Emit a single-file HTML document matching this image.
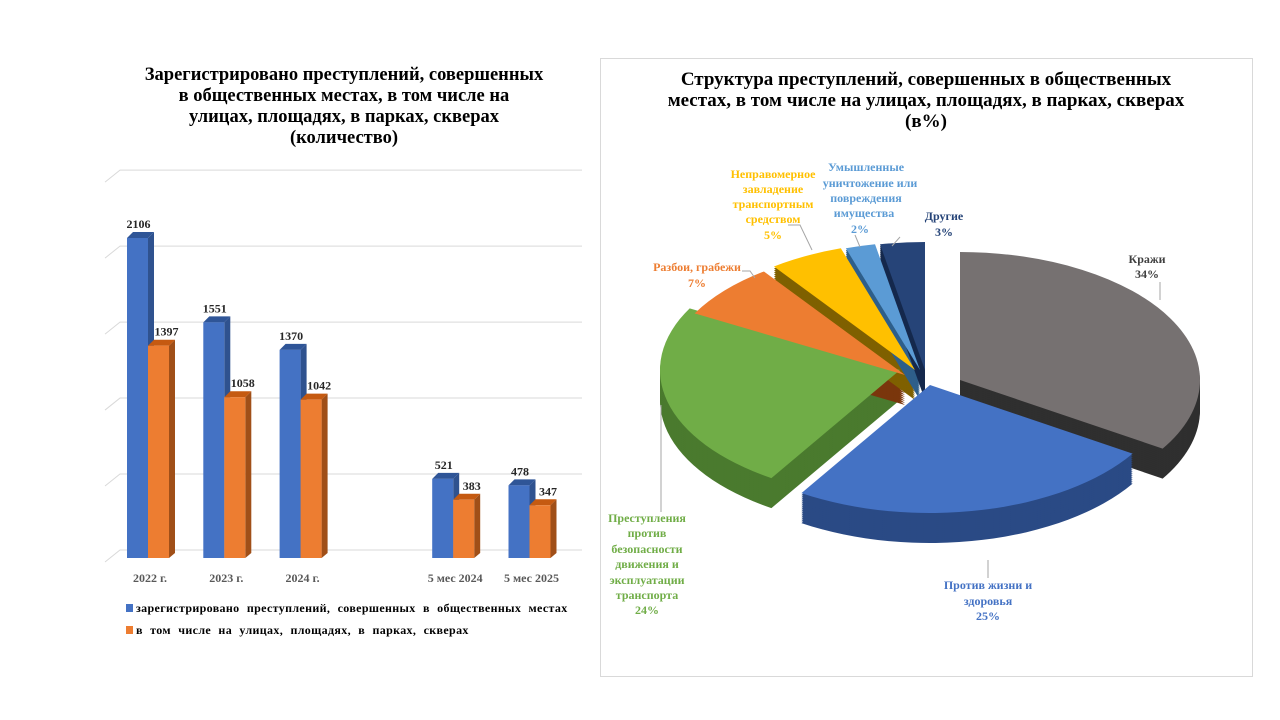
<!DOCTYPE html>
<html><head><meta charset="utf-8"><style>
body{margin:0;background:#fff;width:1280px;height:720px;overflow:hidden;font-family:"Liberation Serif",serif}
svg{position:absolute;left:0;top:0}
</style></head><body>
<svg width="1280" height="720">
<g>
<text x="344" y="80" text-anchor="middle" font-size="18.5" font-weight="bold"><tspan x="344" dy="0">Зарегистрировано преступлений, совершенных</tspan><tspan x="344" dy="21">в общественных местах, в том числе на</tspan><tspan x="344" dy="21">улицах, площадях, в парках, скверах</tspan><tspan x="344" dy="21">(количество)</tspan></text>
<g id="grid"></g>
<g id="bars"></g>
<g id="xlabels"></g>
<rect x="126" y="604" width="7" height="8" fill="#4472c4"/>
<text x="136" y="612" font-size="12" font-weight="bold" word-spacing="4" letter-spacing="0.35">зарегистрировано преступлений, совершенных в общественных местах</text>
<rect x="126" y="626" width="7" height="8" fill="#ed7d31"/>
<text x="136" y="634" font-size="12" font-weight="bold" word-spacing="4" letter-spacing="0.35">в том числе на улицах, площадях, в парках, скверах</text>
</g>
<g>
<rect x="600.5" y="58.5" width="652" height="618" fill="none" stroke="#d9d9d9"/>
<text x="926" y="85" text-anchor="middle" font-size="19" font-weight="bold"><tspan x="926" dy="0">Структура преступлений, совершенных в общественных</tspan><tspan x="926" dy="21">местах, в том числе на улицах, площадях, в парках, скверах</tspan><tspan x="926" dy="21">(в%)</tspan></text>
<g id="pie"></g>
<g font-size="12" font-weight="bold" text-anchor="middle">
<text fill="#404040"><tspan x="1147" y="263">Кражи</tspan><tspan x="1147" y="278">34%</tspan></text>
<text fill="#4472c4"><tspan x="988" y="589">Против жизни и</tspan><tspan x="988" y="605">здоровья</tspan><tspan x="988" y="620">25%</tspan></text>
<text fill="#70ad47"><tspan x="647" y="522">Преступления</tspan><tspan x="647" y="537">против</tspan><tspan x="647" y="553">безопасности</tspan><tspan x="647" y="568">движения и</tspan><tspan x="647" y="584">эксплуатации</tspan><tspan x="647" y="599">транспорта</tspan><tspan x="647" y="614">24%</tspan></text>
<text fill="#ed7d31"><tspan x="697" y="271">Разбои, грабежи</tspan><tspan x="697" y="287">7%</tspan></text>
<text fill="#ffc000"><tspan x="773" y="178">Неправомерное</tspan><tspan x="773" y="193">завладение</tspan><tspan x="773" y="208">транспортным</tspan><tspan x="773" y="223">средством</tspan><tspan x="773" y="239">5%</tspan></text>
<text fill="#5b9bd5"><tspan x="866" y="171">Умышленные</tspan><tspan x="870" y="187">уничтожение или</tspan><tspan x="866" y="202">повреждения</tspan><tspan x="864" y="217">имущества</tspan><tspan x="860" y="233">2%</tspan></text>
<text fill="#264478"><tspan x="944" y="220">Другие</tspan><tspan x="944" y="236">3%</tspan></text>
</g>
<g stroke="#a6a6a6" fill="none">
<path d="M1160 282 V300"/><path d="M988 578 V560"/><path d="M661 512 V405"/><path d="M742 271 H750 L755 278"/><path d="M788 225 H800 L812 250"/><path d="M855 235 L860 247"/><path d="M900 237 L892 246"/>
</g>
</g>
</svg>
<script>
const categories=["2022 г.","2023 г.","2024 г.","","5 мес 2024","5 мес 2025"];
const registered=[2106,1551,1370,null,521,478];
const streets=[1397,1058,1042,null,383,347];
const yTicks=[0,500,1000,1500,2000,2500];
const pieLabels=["Кражи","Против жизни и здоровья","Преступления против безопасности движения","Разбои, грабежи","Неправомерное завладение","Умышленные уничтожение","Другие"];
const pieValues=[34,25,24,7,5,2,3];
const NS="http://www.w3.org/2000/svg";
function mk(t,a,p){const e=document.createElementNS(NS,t);for(const k in a)e.setAttribute(k,a[k]);p.appendChild(e);return e;}
const y0=558,pxPer=320/2106;
const yS=v=>y0-v*pxPer;
const xS=i=>150+i*76.3;
const grid=document.getElementById('grid');
yTicks.forEach(t=>{const y=yS(t)-8;
 const l=mk('path',{d:`M105 ${y+12} L120 ${y} H582`,stroke:'#d9d9d9',fill:'none'},grid);
 
 });
const bars=document.getElementById('bars');
function bar(x,v,front,side,top,name,lx){
 const y=yS(v),w=21,d=6;
 const g=mk('g',{},bars);
 
 
 mk('polygon',{points:`${x+w},${y} ${x+w+d},${y-6} ${x+w+d},${y0-5} ${x+w},${y0}`,fill:side},g);
 mk('polygon',{points:`${x},${y} ${x+d},${y-6} ${x+w+d},${y-6} ${x+w},${y}`,fill:top},g);
 mk('rect',{x:x,y:y,width:w,height:y0-y,fill:front},g);
 const t=mk('text',{x:x+w/2+lx,y:y-10,'text-anchor':'middle','font-size':12,'font-weight':'bold',fill:'#262626'},g);
 t.textContent=v;
 
 
}
const xl=document.getElementById('xlabels');
categories.forEach((c,i)=>{
 if(registered[i]!=null){bar(xS(i)-23,registered[i],'#4472c4','#2f528f','#2f5597','bar-registered',1);
 bar(xS(i)-2,streets[i],'#ed7d31','#a04f18','#c55a11','bar-streets',8);}
 const t=mk('text',{x:xS(i),y:582,'text-anchor':'middle','font-size':12,'font-weight':'bold',fill:'#595959'},xl);
 t.textContent=c;
 
 
});
const pie=document.getElementById('pie');
const cols=['#767171','#4472c4','#70ad47','#ed7d31','#ffc000','#5b9bd5','#264478'];
const sides=['#2f2f2f','#2a4a85','#4a7a2e','#7a360c','#7f6000','#2e5f8a','#15294d'];
const offs=[[45,-5],[15,0],[-15,-15],[-10,-10],[0,-15],[5,-15],[10,-15]];
const cx=915,cy=385,rx=240,ry=128,depth=30;
const total=pieValues.reduce((a,b)=>a+b,0);
function sector(i,a0,a1,dy){
 const ox=cx+offs[i][0],oy=cy+offs[i][1]+dy;
 const p=a=>[ox+rx*Math.sin(a),oy-ry*Math.cos(a)];
 const s=p(a0),e=p(a1),large=(a1-a0)>Math.PI?1:0;
 return `M${ox} ${oy} L${s[0]} ${s[1]} A${rx} ${ry} 0 ${large} 1 ${e[0]} ${e[1]} Z`;
}
let a=0;const angs=pieValues.map(v=>{const s=a;a+=v/total*2*Math.PI;return [s,a];});
angs.forEach(([a0,a1],i)=>{
 const g=mk('g',{},pie);
 
 
 for(let d=depth;d>0;d-=2)mk('path',{d:sector(i,a0,a1,d),fill:sides[i]},g);
});
angs.forEach(([a0,a1],i)=>{
 const s=mk('path',{d:sector(i,a0,a1,0),fill:cols[i]},pie);
 
 
});
</script>
</body></html>
